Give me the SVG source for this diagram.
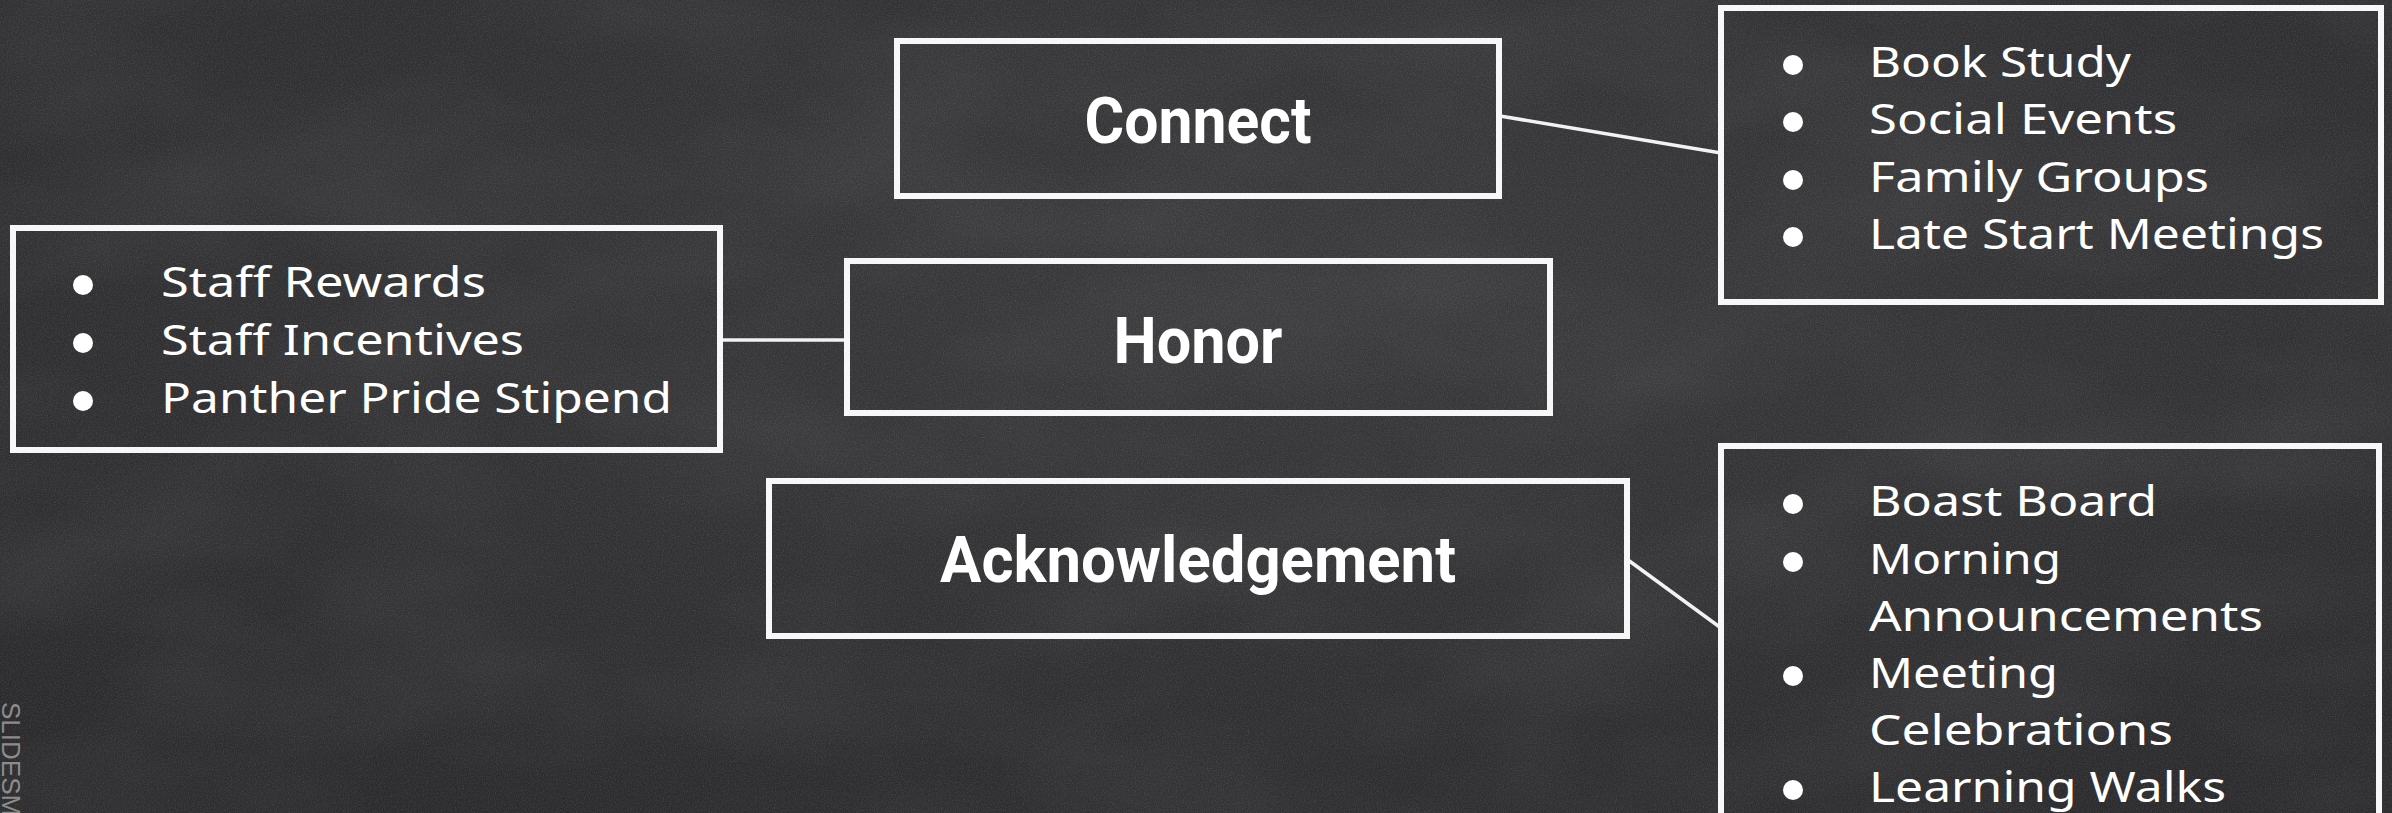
<svg xmlns="http://www.w3.org/2000/svg" width="2392" height="813" viewBox="0 0 2392 813">
  <defs>
    <filter id="chalk" x="0" y="0" width="100%" height="100%">
      <feTurbulence type="fractalNoise" baseFrequency="0.85" numOctaves="2" seed="4" result="n"/>
      <feColorMatrix in="n" type="matrix" values="0 0 0 0 1  0 0 0 0 1  0 0 0 0 1  0.9 0 0 0 -0.35"/>
    </filter>
    <filter id="blotch" x="0" y="0" width="100%" height="100%">
      <feTurbulence type="fractalNoise" baseFrequency="0.004 0.008" numOctaves="3" seed="11" result="b"/>
      <feColorMatrix in="b" type="matrix" values="0 0 0 0 1  0 0 0 0 1  0 0 0 0 1  0.7 0 0 0 -0.25"/>
    </filter>
    <radialGradient id="vig" cx="0.55" cy="0.35" r="0.8">
      <stop offset="0" stop-color="#3a393c"/>
      <stop offset="1" stop-color="#2a292c"/>
    </radialGradient>
    <style>
      .box { fill: none; stroke: #f7f7f7; stroke-width: 6; }
      .conn { stroke: #f2f2f2; stroke-width: 3.5; fill: none; }
      .head { font-family: "Roboto", "Liberation Sans", sans-serif; font-weight: 700; font-size: 64px; fill: #ffffff; text-anchor: middle; }
      .item { font-family: "Noto Sans", "Open Sans", sans-serif; font-size: 42px; fill: #ffffff; }
      .bul { fill: #ffffff; }
      .wm { font-family: "Liberation Sans", sans-serif; font-size: 26px; fill: #8c8c8c; }
    </style>
  </defs>

  <rect width="2392" height="813" fill="url(#vig)"/>
  <rect width="2392" height="813" filter="url(#blotch)" opacity="0.12"/>
  <rect width="2392" height="813" filter="url(#chalk)" opacity="0.22"/>

  <g id="connectors">
    <line class="conn" x1="1500" y1="116" x2="1721" y2="153"/>
    <line class="conn" x1="720" y1="340" x2="847" y2="340"/>
    <line class="conn" x1="1628" y1="560" x2="1721" y2="628"/>
  </g>

  <g id="node-connect">
    <rect class="box" x="897" y="41" width="602" height="155"/>
    <text class="head" x="1198" y="143" textLength="227" lengthAdjust="spacingAndGlyphs">Connect</text>
  </g>

  <g id="node-honor">
    <rect class="box" x="847" y="261" width="703" height="152"/>
    <text class="head" x="1198" y="363" textLength="169" lengthAdjust="spacingAndGlyphs">Honor</text>
  </g>

  <g id="node-acknowledgement">
    <rect class="box" x="769" y="481" width="858" height="155"/>
    <text class="head" x="1198" y="582" textLength="516" lengthAdjust="spacingAndGlyphs">Acknowledgement</text>
  </g>

  <g id="node-connect-list">
    <rect class="box" x="1721" y="8" width="660" height="294"/>
    <circle class="bul" cx="1793" cy="65" r="10"/>
    <circle class="bul" cx="1793" cy="122" r="10"/>
    <circle class="bul" cx="1793" cy="180" r="10"/>
    <circle class="bul" cx="1793" cy="237" r="10"/>
    <text class="item" x="1869" y="77" textLength="262" lengthAdjust="spacingAndGlyphs">Book Study</text>
    <text class="item" x="1869" y="134" textLength="308" lengthAdjust="spacingAndGlyphs">Social Events</text>
    <text class="item" x="1869" y="192" textLength="340" lengthAdjust="spacingAndGlyphs">Family Groups</text>
    <text class="item" x="1869" y="249" textLength="455" lengthAdjust="spacingAndGlyphs">Late Start Meetings</text>
  </g>

  <g id="node-honor-list">
    <rect class="box" x="13" y="228" width="707" height="222"/>
    <circle class="bul" cx="83" cy="285" r="10"/>
    <circle class="bul" cx="83" cy="343" r="10"/>
    <circle class="bul" cx="83" cy="401" r="10"/>
    <text class="item" x="161" y="297" textLength="325" lengthAdjust="spacingAndGlyphs">Staff Rewards</text>
    <text class="item" x="161" y="355" textLength="363" lengthAdjust="spacingAndGlyphs">Staff Incentives</text>
    <text class="item" x="161" y="413" textLength="511" lengthAdjust="spacingAndGlyphs">Panther Pride Stipend</text>
  </g>

  <g id="node-acknowledgement-list">
    <rect class="box" x="1721" y="446" width="658" height="420"/>
    <circle class="bul" cx="1793" cy="504" r="10"/>
    <circle class="bul" cx="1793" cy="562" r="10"/>
    <circle class="bul" cx="1793" cy="676" r="10"/>
    <circle class="bul" cx="1793" cy="790" r="10"/>
    <text class="item" x="1869" y="516" textLength="288" lengthAdjust="spacingAndGlyphs">Boast Board</text>
    <text class="item" x="1869" y="574" textLength="192" lengthAdjust="spacingAndGlyphs">Morning</text>
    <text class="item" x="1869" y="631" textLength="394" lengthAdjust="spacingAndGlyphs">Announcements</text>
    <text class="item" x="1869" y="688" textLength="189" lengthAdjust="spacingAndGlyphs">Meeting</text>
    <text class="item" x="1869" y="745" textLength="304" lengthAdjust="spacingAndGlyphs">Celebrations</text>
    <text class="item" x="1869" y="802" textLength="357" lengthAdjust="spacingAndGlyphs">Learning Walks</text>
  </g>

  <text class="wm" transform="translate(2,702) rotate(90)">SLIDESMANIA</text>
</svg>
